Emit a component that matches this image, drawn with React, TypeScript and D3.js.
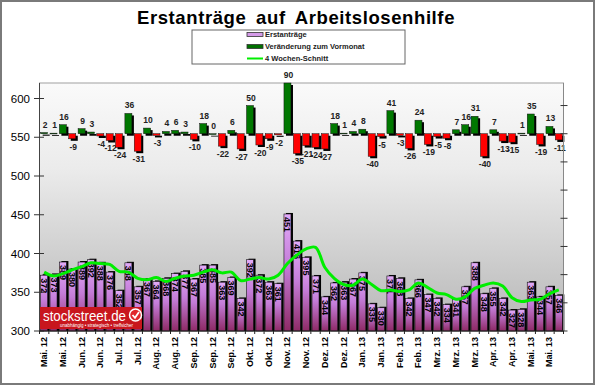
import * as d3 from "d3";

// x-axis labels, one for every second week
const tickLabels = [
  "Mai. 12", "Mai. 12", "Jun. 12", "Jun. 12", "Jul. 12", "Jul. 12", "Aug. 12",
  "Aug. 12", "Sep. 12", "Sep. 12", "Sep. 12", "Okt. 12", "Okt. 12", "Nov. 12",
  "Nov. 12", "Dez. 12", "Dez. 12", "Jan. 13", "Jan. 13", "Feb. 13", "Feb. 13",
  "Mrz. 13", "Mrz. 13", "Mrz. 13", "Apr. 13", "Apr. 13", "Mai. 13", "Mai. 13",
];

// weekly initial claims (thousands)
const claims = [
  372, 373, 389, 380, 389, 392, 388, 376, 352, 388, 357, 367, 364, 368,
  374, 377, 367, 385, 385, 363, 369, 342, 392, 372, 363, 361, 451, 416,
  395, 371, 344, 362, 363, 367, 375, 335, 330, 371, 368, 342, 366, 347,
  342, 334, 341, 357, 388, 348, 355, 342, 327, 328, 363, 344, 357, 346,
];

// change vs. previous week
const changes = [
  2, 1, 16, -9, 9, 3, -4, -12, -24, 36, -31, 10, -3, 4,
  6, 3, -10, 18, 0, -22, 6, -27, 50, -20, -9, -2, 90, -35,
  -21, -24, -27, 18, 1, 4, 8, -40, -5, 41, -3, -26, 24, -19,
  -5, -8, 7, 16, 31, -40, 7, -13, -15, 1, 35, -19, 13, -11,
];

// 4-week average
const avg4 = [
  376, 371, 374, 379, 383, 388, 387, 386, 377, 376, 368, 366, 369, 364,
  368, 371, 372, 376, 379, 375, 376, 365, 367, 369, 367, 372, 387, 398,
  406, 408, 382, 368, 360, 359, 367, 360, 352, 353, 351, 353, 362, 356,
  349, 347, 341, 344, 355, 359, 362, 358, 343, 338, 340, 341, 348, 353,
];

const yTicks = [300, 350, 400, 450, 500, 550, 600];

const FONT = "'Liberation Sans', Arial, sans-serif";

export default function App() {
  const W = 595;
  const H = 385;
  const m = { left: 39.5, right: 563.5, top: 83, bottom: 331 };

  const x = d3
    .scaleBand<number>()
    .domain(d3.range(claims.length))
    .range([m.left, m.right])
    .paddingInner(0.25)
    .paddingOuter(0.125);
  const bw = x.bandwidth();
  const cx = (i: number) => x(i)! + bw / 2;

  const y = d3.scaleLinear().domain([300, 620]).range([m.bottom, m.top]);
  // secondary axis for the weekly change
  const yc = d3.scaleLinear().domain([-350, 90]).range([m.bottom, m.top]);
  const rightTicks = d3.range(-350, 51, 50);

  const avgLine = d3
    .line<number>()
    .x((d, i) => cx(i))
    .y((d) => y(d))
    .curve(d3.curveCatmullRom.alpha(0.5));

  return (
    <svg
      width={W}
      height={H}
      style={{ position: "absolute", left: 0, top: 0, fontFamily: FONT }}
    >
      <defs>
        <linearGradient id="plotBg" x1="0" y1="0" x2="0" y2="1">
          <stop offset="0" stopColor="#fafafa" />
          <stop offset="0.35" stopColor="#ebebeb" />
          <stop offset="1" stopColor="#b6b6b6" />
        </linearGradient>
        <linearGradient id="purple" x1="0" y1="0" x2="0" y2="1">
          <stop offset="0" stopColor="#e2aaf8" />
          <stop offset="0.45" stopColor="#c47cd8" />
          <stop offset="1" stopColor="#8e2a66" />
        </linearGradient>
      </defs>

      <rect x={0} y={0} width={W} height={H} fill="#fff" />
      <rect x={1} y={1} width={W - 2} height={H - 2} fill="none" stroke="#7a7a7a" strokeWidth={2} />

      {/* title */}
      <text
        x={296}
        y={24}
        textAnchor="middle"
        fontSize={18.5}
        fontWeight="bold"
        letterSpacing={0.6}
        wordSpacing={4}
      >
        Erstanträge auf Arbeitslosenhilfe
      </text>

      {/* legend */}
      <rect x={192} y={30} width={213} height={34} fill="#fff" stroke="#666" />
      <g fontSize={7.5} fontWeight="bold" fill="#222">
        <rect x={247} y={32.5} width={16} height={4} fill="#d49ae8" stroke="#333" strokeWidth={0.8} />
        <text x={265} y={34.5} dominantBaseline="central">Erstanträge</text>
        <rect x={247} y={44.5} width={16} height={4} fill="#007000" stroke="#333" strokeWidth={0.8} />
        <text x={265} y={46.5} dominantBaseline="central">Veränderung zum Vormonat</text>
        <line x1={247} x2={263} y1={58.5} y2={58.5} stroke="#00ee00" strokeWidth={2} />
        <text x={265} y={58.5} dominantBaseline="central">4 Wochen-Schnitt</text>
      </g>

      {/* plot area */}
      <rect
        x={m.left}
        y={m.top}
        width={m.right - m.left}
        height={m.bottom - m.top}
        fill="url(#plotBg)"
        stroke="#a0a0a0"
      />

      {/* weekly claims */}
      {claims.map((v, i) => (
        <g key={"c" + i}>
          <rect x={x(i)! + 2} y={y(v) - 1} width={bw} height={m.bottom - y(v) + 1} fill="#000" />
          <rect x={x(i)!} y={y(v)} width={bw} height={m.bottom - y(v)} fill="url(#purple)" stroke="#111" strokeWidth={0.6} />
        </g>
      ))}
      {claims.map((v, i) => (
        <text
          key={"cl" + i}
          x={cx(i)}
          y={y(v) + 3}
          transform={`rotate(90, ${cx(i)}, ${y(v) + 3})`}
          fontSize={9}
          fontWeight="bold"
          dominantBaseline="central"
          fill="#000"
        >
          {v}
        </text>
      ))}

      {/* weekly change */}
      {changes.map((v, i) => {
        const y0 = yc(0);
        const y1 = yc(v);
        const top = Math.min(y0, y1);
        const h = Math.max(Math.abs(y1 - y0), 0.8);
        return (
          <g key={"d" + i}>
            <rect x={x(i)! + 2} y={top + 2} width={bw} height={h} fill="#000" />
            <rect x={x(i)!} y={top} width={bw} height={h} fill={v >= 0 ? "#007800" : "#ff0000"} stroke="#111" strokeWidth={0.5} />
            <text
              x={cx(i) + 1}
              y={v >= 0 ? y1 - 5 : y1 + 11}
              textAnchor="middle"
              fontSize={8.5}
              fontWeight="bold"
              fill="#222"
            >
              {v}
            </text>
          </g>
        );
      })}

      {/* 4-week average */}
      <path d={avgLine(avg4) ?? ""} fill="none" stroke="#00ee00" strokeWidth={3} />

      {/* watermark */}
      <g>
        <rect x={40} y={307} width={102} height={22} fill="#c8161d" />
        <text x={43} y={320.5} fontSize={14} fill="#fff" textLength={83} lengthAdjust="spacingAndGlyphs">
          stockstreet.de
        </text>
        <circle cx={135.5} cy={315} r={6} fill="#e0282c" stroke="#fff" strokeWidth={1.5} />
        <path d="M132.5,315 L135,317.8 L139,312" fill="none" stroke="#fff" strokeWidth={1.8} />
        <text x={60} y={326.8} fontSize={4.5} fill="#fff">
          unabhängig • strategisch • treffsicher
        </text>
      </g>

      {/* left axis */}
      <line x1={m.left} x2={m.left} y1={m.top} y2={m.bottom} stroke="#444" />
      {yTicks.map((t) => (
        <g key={"yt" + t}>
          <line x1={34} x2={44} y1={y(t)} y2={y(t)} stroke="#333" />
          <text x={30} y={y(t)} textAnchor="end" dominantBaseline="central" fontSize={11.5} fill="#000">
            {t}
          </text>
        </g>
      ))}

      {/* right axis */}
      <line x1={m.right} x2={m.right} y1={m.top} y2={m.bottom} stroke="#888" />
      {rightTicks.map((t) => (
        <line key={"rt" + t} x1={m.right - 3} x2={m.right + 4} y1={yc(t)} y2={yc(t)} stroke="#333" />
      ))}

      {/* bottom axis */}
      <line x1={m.left} x2={m.right} y1={m.bottom} y2={m.bottom} stroke="#222" />
      {d3.range(claims.length + 1).map((i) => {
        const xx = m.left + i * x.step();
        return <line key={"xt" + i} x1={xx} x2={xx} y1={m.bottom} y2={m.bottom + 3} stroke="#222" />;
      })}
      {tickLabels.map((lab, k) => {
        const xx = cx(k * 2);
        return (
          <text
            key={"xl" + k}
            x={xx}
            y={337}
            transform={`rotate(-90, ${xx}, 337)`}
            textAnchor="end"
            dominantBaseline="central"
            fontSize={9}
            fontWeight="bold"
            fill="#000"
          >
            {lab}
          </text>
        );
      })}
    </svg>
  );
}
